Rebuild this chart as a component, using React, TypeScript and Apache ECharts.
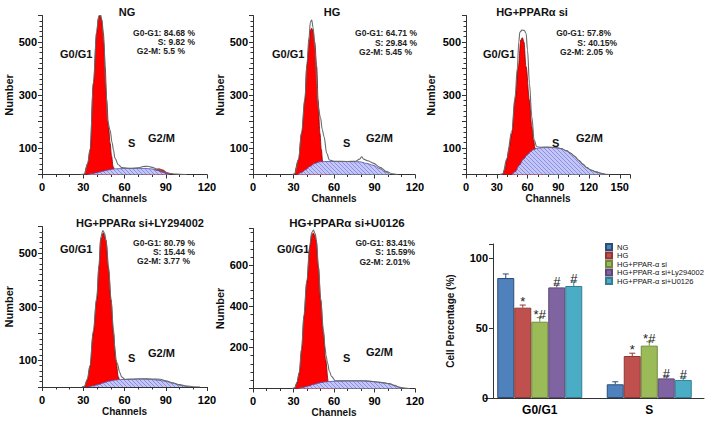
import React, { useEffect, useRef } from "react";
import * as echarts from "echarts";

// ---------- data ----------
const panelTitles = ["NG", "HG", "HG+PPARα si", "HG+PPARα si+LY294002", "HG+PPARα si+U0126"];
const statLines = [
  ["G0-G1: 84.68 %", "S: 9.82 %", "G2-M: 5.5 %"],
  ["G0-G1: 64.71 %", "S: 29.84 %", "G2-M: 5.45 %"],
  ["G0-G1: 57.8%", "S: 40.15%", "G2-M: 2.05 %"],
  ["G0-G1: 80.79 %", "S: 15.44 %", "G2-M: 3.77 %"],
  ["G0-G1: 83.41%", "S: 15.59%", "G2-M: 2.01%"],
];
const phaseLabels = ["G0/G1", "S", "G2/M"];

// panel 1: NG
const ngG1 = [[31,0],[33.2,40],[35,92],[37.4,344],[39.8,534],[41,588],[42,602],[43.2,586],[44.6,534],[46,400],[47,281],[48.4,180],[49.5,119],[50.6,70],[51.7,30],[53,12],[55,0]];
const ngG2 = [[74,0],[78,8],[82,18],[85,22],[88,17],[91,7],[94,0]];
const ngS = [[33,0],[36,3],[40,7],[44,12],[48,17],[52,21],[56,22],[65,23],[75,23],[80,21],[84,15],[88,8],[91,3],[93,0]];
const ngData = [[28,0],[31,2],[33.2,42],[35,95],[37.4,350],[39.8,545],[41.3,598],[42.4,606],[43.6,585],[45,500],[46.5,330],[47.6,205],[49.5,168],[51,120],[52,92],[53,62],[55.5,37],[58,26],[65,23],[70,25],[73.6,30],[77,31],[80,27],[84,20],[88,12],[92,5],[96,2],[100,1],[105,0]];

// panel 2: HG
const hgG1 = [[31,0],[33.7,55],[36,155],[38.5,281],[39.8,407],[41.7,495],[42.5,545],[43.5,552],[44.5,540],[45.7,500],[47.2,407],[48.2,281],[49.6,155],[50.6,95],[51.6,48],[53,20],[55,0]];
const hgS = [[33,0],[36,8],[39,18],[42,30],[46,42],[49.6,48],[53,49],[60,49],[70,49],[79,48],[84,42],[89,35],[94,22],[98,10],[101.5,0]];
const hgData = [[29,0],[31,3],[33.7,58],[36,160],[38.5,290],[40,420],[41.5,520],[42.5,575],[43.5,583],[44.5,555],[46,470],[47.4,330],[48.2,256],[50,215],[51.3,170],[52.6,143],[54.6,80],[56.6,55],[60,50],[70,49],[76,50],[79,58],[80.5,67],[82,58],[85,52],[89,43],[94,27],[99,11],[103,3],[107,0]];

// panel 3: HG+PPARα si
const p3G1 = [[36,0],[38,20],[39.8,55],[42,100],[44.7,155],[47.9,281],[51.1,407],[53.5,508],[55,516],[56.5,500],[58.6,407],[61.9,281],[64.2,180],[65.8,130],[67.4,100],[70,60],[73,25],[76,0]];
const p3S = [[45,0],[48,10],[52,35],[56,58],[60,75],[63,86],[66,94],[69,98],[73,101],[80,102],[88,101],[93,97],[98,89],[102,80],[106,68],[110,53],[114,38],[118,25],[122,16],[127,10],[132,4],[136,0]];
const p3Data = [[33,0],[36,3],[39.8,60],[44.7,165],[47.9,295],[50,400],[51.5,500],[52.5,537],[54.7,545],[56.7,544],[58.6,533],[60,470],[61.9,344],[64.2,218],[66.5,130],[69,105],[73,103],[80,104],[88,102],[93,98],[98,90],[102,81],[106,69],[110,54],[114,39],[118,26],[122,17],[127,10],[132,5],[136,1],[140,0]];

// panel 4: HG+PPARα si+LY294002
const p4G1 = [[31,0],[33,26],[34.9,76],[37.3,200],[39.8,325],[41.5,450],[42.7,550],[44.6,576],[46.5,550],[48.2,450],[50.2,325],[51.9,200],[53.8,101],[55.5,38],[57,15],[59,0]];
const p4S = [[33.5,0],[37,4],[41,9],[45,16],[49,22],[53,26],[57,28],[62,29],[70,30],[78,29],[84,26],[90,21],[95,14],[100,7],[104,3],[108,0]];
const p4Data = [[29,0],[31,3],[33,30],[34.9,80],[37.3,210],[39.8,335],[41.5,460],[42.7,560],[44.3,585],[45.5,575],[46.8,540],[48.5,440],[50.2,330],[51.9,220],[53.1,140],[54,95],[54.8,88],[56.5,55],[57.9,38],[60.4,28],[65,29],[72,31],[80,30],[86,29],[90,23],[95,16],[100,9],[105,4],[110,1],[115,0]];

// panel 5: HG+PPARα si+U0126
const p5G1 = [[31,0],[32.5,25],[34.3,74],[36,188],[37.8,350],[39.8,513],[42.2,692],[43.5,749],[44.7,758],[45.8,745],[46.7,724],[48.4,594],[50.1,432],[52.1,269],[53.8,139],[55.8,33],[57,12],[59,0]];
const p5S = [[33.3,0],[37,5],[41,12],[45,20],[49,27],[53,32],[57,34],[62,36],[70,37],[80,37],[86,35],[92,31],[97,27],[101,23],[105,14],[108,6],[111,0]];
const p5Data = [[29,0],[31,4],[32.5,30],[34.3,80],[36,195],[37.8,360],[39.8,525],[42.2,705],[43.5,760],[44.8,772],[46,755],[47,724],[48.4,600],[50.1,440],[52.1,290],[53.4,200],[54.1,160],[55.3,123],[56.5,85],[58.3,58],[61,38],[66,37],[74,38],[82,38],[86,36],[92,32],[97,28],[101,24],[105,15],[108,7],[112,2],[116,0]];

// bar chart
const barCategories = ["G0/G1", "S"];
const groupNames = ["NG", "HG", "HG+PPAR-α si", "HG+PPAR-α si+Ly294002", "HG+PPAR-α si+U0126"];
const barNG = [85.7, 9.8];
const barHG = [64.5, 30.0];
const barSi = [54.5, 37.4];
const barLY = [79.0, 14.0];
const barU0 = [80.0, 12.9];
const errNG = [2.9, 1.8];
const errHG = [1.9, 2.0];
const errSi = [2.9, 2.8];
const errLY = [1.7, 1.2];
const errU0 = [2.9, 1.4];
const markNG = ["", ""];
const markHG = ["*", "*"];
const markSi = ["*#", "*#"];
const markLY = ["#", "#"];
const markU0 = ["#", "#"];

// ---------- styles ----------
const FONT = "Liberation Sans, Arial, sans-serif";
const AX = "#333";
const barColors = ["#4f81bd", "#c0504d", "#9bbb59", "#8064a2", "#4bacc6"];
const barBorders = ["#2c4d75", "#8c3836", "#71893f", "#5c4776", "#357d91"];
const BW = 17;

function makeHatch(): any {
  try {
    const c = document.createElement("canvas");
    c.width = 4;
    c.height = 4;
    const g = c.getContext("2d");
    if (!g) return "#b4b8f0";
    g.fillStyle = "#c3c6f7";
    g.fillRect(0, 0, 4, 4);
    g.strokeStyle = "#8a8fe2";
    g.lineWidth = 1;
    g.beginPath();
    g.moveTo(0, 0);
    g.lineTo(4, 4);
    g.stroke();
    return { image: c, repeat: "repeat" };
  } catch (e) {
    return "#b4b8f0";
  }
}

interface Panel {
  g1: number[][];
  g2?: number[][];
  s: number[][];
  data: number[][];
  grid: { left: number; top: number; width: number; height: number };
  xMax: number;
  yMax: number;
  yInterval: number;
  yShown: number[];
  yNameGap: number;
}

const panels: Panel[] = [
  { g1: ngG1, g2: ngG2, s: ngS, data: ngData, grid: { left: 42, top: 15.5, width: 165, height: 159 }, xMax: 120, yMax: 600, yInterval: 100, yShown: [100, 300, 500], yNameGap: 24 },
  { g1: hgG1, s: hgS, data: hgData, grid: { left: 253, top: 15.5, width: 162, height: 159 }, xMax: 120, yMax: 600, yInterval: 100, yShown: [100, 300, 500], yNameGap: 25 },
  { g1: p3G1, s: p3S, data: p3Data, grid: { left: 466, top: 15.5, width: 164, height: 159 }, xMax: 160, yMax: 600, yInterval: 100, yShown: [100, 300, 500], yNameGap: 30 },
  { g1: p4G1, s: p4S, data: p4Data, grid: { left: 42, top: 226.5, width: 165, height: 160.5 }, xMax: 120, yMax: 600, yInterval: 100, yShown: [100, 300, 500], yNameGap: 25 },
  { g1: p5G1, s: p5S, data: p5Data, grid: { left: 253, top: 228.5, width: 162, height: 160 }, xMax: 120, yMax: 780, yInterval: 200, yShown: [200, 400, 600], yNameGap: 25 },
];

const titlePos = [[127, 12, 11], [332, 12, 11], [532, 12, 11], [140, 223, 11], [347, 223, 11.5]];
const statPos = [
  [[195, 33], [195, 42], [185, 51]],
  [[417, 33], [417, 43], [412, 52]],
  [[611, 33], [617, 43], [613, 52]],
  [[195, 243], [195, 252], [190, 261]],
  [[415, 243], [415, 252], [410, 262]],
];
const phasePos = [
  [[60, 54], [128, 143], [148, 138]],
  [[272, 54], [343, 143], [366, 138]],
  [[483, 54], [552, 143], [576, 138]],
  [[60, 249], [128, 358], [148, 353]],
  [[277, 249], [343, 358], [366, 352]],
];

function buildOption() {
  const hatch = makeHatch();
  const grids: any[] = [];
  const xAxes: any[] = [];
  const yAxes: any[] = [];
  const series: any[] = [];
  const graphics: any[] = [];

  panels.forEach((p, gi) => {
    grids.push({ ...p.grid });
    xAxes.push({
      type: "value", gridIndex: gi, min: 0, max: p.xMax, interval: 30,
      axisLine: { show: true, onZero: false, lineStyle: { color: AX, width: 1 } },
      axisTick: { show: true, length: 4, lineStyle: { color: AX } },
      minorTick: { show: true, splitNumber: 3, length: 2.5, lineStyle: { color: AX } },
      splitLine: { show: false },
      axisLabel: { fontFamily: FONT, fontWeight: "bold", fontSize: 11, color: "#000", margin: 7, formatter: (v: number) => (v > 150 ? "" : String(v)) },
      name: "Channels", nameLocation: "middle", nameGap: 19,
      nameTextStyle: { fontFamily: FONT, fontWeight: "bold", fontSize: 10, color: "#111" },
    });
    yAxes.push({
      type: "value", gridIndex: gi, min: 0, max: p.yMax, interval: p.yInterval,
      axisLine: { show: true, onZero: false, lineStyle: { color: AX, width: 1 } },
      axisTick: { show: true, length: 4, lineStyle: { color: AX } },
      minorTick: { show: true, splitNumber: 5, length: 2.5, lineStyle: { color: AX } },
      splitLine: { show: false },
      axisLabel: { fontFamily: FONT, fontWeight: "bold", fontSize: 11, color: "#000", margin: 5, formatter: (v: number) => (p.yShown.includes(v) ? String(v) : "") },
      name: "Number", nameLocation: "middle", nameGap: p.yNameGap,
      nameTextStyle: { fontFamily: FONT, fontWeight: "bold", fontSize: 11, color: "#111" },
    });
    const common = { xAxisIndex: gi, yAxisIndex: gi, type: "line", symbol: "none", showSymbol: false, smooth: 0.35, smoothMonotone: "x", silent: true };
    series.push({ ...common, data: p.g1, z: 2, lineStyle: { color: "#7a0000", width: 0.8 }, areaStyle: { color: "#ff0000", opacity: 1 } });
    if (p.g2) series.push({ ...common, data: p.g2, z: 2, lineStyle: { color: "#7a0000", width: 0.6 }, areaStyle: { color: "#ff0000", opacity: 1 } });
    series.push({ ...common, data: p.s, z: 3, lineStyle: { color: "#4a4fa8", width: 0.8 }, areaStyle: { color: hatch, opacity: 1 } });
    series.push({ ...common, data: p.data, z: 4, lineStyle: { color: "#6a6a6a", width: 1.1 } });

    // texts
    const tp = titlePos[gi];
    graphics.push({ type: "text", x: tp[0], y: tp[1], style: { text: panelTitles[gi], font: `bold ${tp[2]}px ${FONT}`, fill: "#111", align: "center", verticalAlign: "middle" } });
    statLines[gi].forEach((t, li) => {
      const sp = statPos[gi][li];
      graphics.push({ type: "text", x: sp[0], y: sp[1], style: { text: t, font: `bold 8.5px ${FONT}`, fill: "#222", align: "right", verticalAlign: "middle" } });
    });
    phaseLabels.forEach((t, li) => {
      const pp = phasePos[gi][li];
      graphics.push({ type: "text", x: pp[0], y: pp[1], style: { text: t, font: `bold 11px ${FONT}`, fill: "#111", align: "left", verticalAlign: "middle" } });
    });
  });

  // bar chart
  const bi = panels.length;
  grids.push({ left: 485, top: 244, width: 219, height: 154 });
  xAxes.push({
    type: "category", gridIndex: bi, data: barCategories,
    axisLine: { show: true, lineStyle: { color: AX, width: 1 } },
    axisTick: { show: false },
    axisLabel: { fontFamily: FONT, fontWeight: "bold", fontSize: 12, color: "#000", margin: 6 },
  });
  yAxes.push({
    type: "value", gridIndex: bi, min: 0, max: 110, interval: 50, offset: -8,
    axisLine: { show: true, lineStyle: { color: AX, width: 1 } },
    axisTick: { show: true, length: 4, lineStyle: { color: AX } },
    splitLine: { show: false },
    axisLabel: { fontFamily: FONT, fontWeight: "bold", fontSize: 11, color: "#000", margin: 5, formatter: (v: number) => (v > 100 ? "" : String(v)) },
    name: "Cell Percentage (%)", nameLocation: "middle", nameGap: 38,
    nameTextStyle: { fontFamily: FONT, fontWeight: "bold", fontSize: 10, color: "#111" },
  });
  const vals = [barNG, barHG, barSi, barLY, barU0];
  const errs = [errNG, errHG, errSi, errLY, errU0];
  const marks = [markNG, markHG, markSi, markLY, markU0];
  vals.forEach((v, i) => {
    series.push({
      type: "bar", name: groupNames[i], xAxisIndex: bi, yAxisIndex: bi, data: v,
      barWidth: BW, barGap: "0%", z: 2, silent: true,
      itemStyle: { color: barColors[i], borderColor: barBorders[i], borderWidth: 1 },
    });
  });
  vals.forEach((v, i) => {
    series.push({
      type: "custom", xAxisIndex: bi, yAxisIndex: bi, z: 5, silent: true,
      data: v.map((y, k) => [k, y]),
      encode: { x: 0, y: 1 },
      renderItem: (params: any, api: any) => {
        const k = params.dataIndex;
        const base = api.coord([k, v[k]]);
        const top = api.coord([k, v[k] + errs[i][k]]);
        const x = base[0] + (i - 2) * BW;
        const col = barBorders[i];
        return {
          type: "group",
          children: [
            { type: "line", shape: { x1: x, y1: base[1], x2: x, y2: top[1] }, style: { stroke: col, lineWidth: 1 } },
            { type: "line", shape: { x1: x - 3, y1: top[1], x2: x + 3, y2: top[1] }, style: { stroke: col, lineWidth: 1 } },
            { type: "text", x: x, y: top[1] + 3, style: { text: marks[i][k], font: `13px ${FONT}`, fill: "#222", align: "center", verticalAlign: "bottom" } },
          ],
        };
      },
    });
  });

  return {
    animation: false,
    backgroundColor: "#fff",
    grid: grids,
    xAxis: xAxes,
    yAxis: yAxes,
    series,
    legend: {
      data: groupNames, orient: "vertical", left: 600, top: 238,
      itemWidth: 6, itemHeight: 6, itemGap: 0.5, icon: "rect",
      textStyle: { fontFamily: FONT, fontSize: 7.5, color: "#111", lineHeight: 8 },
      selectedMode: false,
    },
    graphic: graphics,
  };
}

export default function App() {
  const ref = useRef<HTMLDivElement>(null);
  useEffect(() => {
    if (!ref.current) return;
    const chart = echarts.init(ref.current, null, { renderer: "svg" });
    chart.setOption(buildOption() as any);
    return () => chart.dispose();
  }, []);
  return <div ref={ref} style={{ position: "fixed", left: 0, top: 0, width: 711, height: 422 }} />;
}
